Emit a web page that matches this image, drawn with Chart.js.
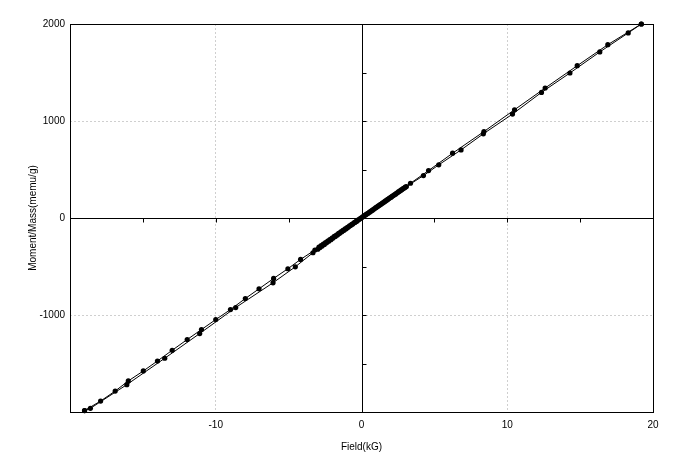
<!DOCTYPE html>
<html>
<head>
<meta charset="utf-8">
<script src="https://cdn.jsdelivr.net/npm/chart.js@4.4.0/dist/chart.umd.min.js"></script>
<style>
	html, body { margin: 0; padding: 0; background: #fff; }
</style>
</head>
<body>
<canvas id="loop" width="687" height="462"></canvas>
<script>
// descending branch (+20 kG -> -20 kG)
const downField = [19.2, 16.9, 14.8, 12.6, 10.5, 8.4, 6.25, 4.6, 3.36,
	3.0, 2.85, 2.7, 2.55, 2.4, 2.25, 2.1, 1.95, 1.8, 1.65, 1.5, 1.35, 1.2, 1.05, 0.9, 0.75, 0.6, 0.45, 0.3, 0.15, 0.0,
	-0.15, -0.3, -0.45, -0.6, -0.75, -0.9, -1.05, -1.2, -1.35, -1.5, -1.65, -1.8, -1.95, -2.1, -2.25, -2.4, -2.55, -2.7, -2.85, -3.0,
	-3.33, -4.54, -6.07, -8.63, -11.1, -13.5, -16.1, -18.6, -19.0];
const downMoment = [2000, 1787, 1570, 1340, 1116, 891, 668, 489, 358,
	318, 303, 287, 271, 255, 239, 224, 208, 192, 176, 160, 144, 129, 113, 97, 81, 65, 49, 34, 18, 2,
	-14, -30, -46, -62, -78, -94, -110, -126, -142, -158, -174, -190, -207, -223, -239, -256, -272, -289, -305, -322,
	-358, -503, -668, -923, -1191, -1446, -1718, -1962, -1985];

// ascending branch (-20 kG -> +20 kG)
const upField = [-19.0, -17.9, -16.9, -16.0, -14.97, -14.0, -12.99, -11.96, -10.98, -10.0, -8.99, -7.97, -7.03, -6.03, -5.05, -4.18, -3.2,
	-2.92, -2.77, -2.62, -2.47, -2.32, -2.17, -2.02, -1.87, -1.72, -1.57, -1.42, -1.27, -1.12, -0.97, -0.82, -0.67, -0.52, -0.37, -0.22, -0.07,
	0.08, 0.23, 0.38, 0.53, 0.68, 0.83, 0.98, 1.13, 1.28, 1.43, 1.58, 1.73, 1.88, 2.03, 2.18, 2.33, 2.48, 2.63, 2.78, 2.93, 3.08,
	4.25, 5.3, 6.83, 8.36, 10.36, 12.35, 14.3, 16.35, 18.3, 19.2];
const upMoment = [-1985, -1887, -1784, -1680, -1577, -1474, -1364, -1253, -1150, -1047, -944, -830, -730, -623, -523, -427, -330,
	-300, -284, -268, -253, -237, -222, -206, -190, -175, -159, -144, -128, -113, -97, -81, -66, -50, -35, -19, -3,
	12, 28, 44, 59, 75, 90, 106, 122, 137, 153, 168, 184, 200, 215, 231, 246, 262, 278, 293, 309, 324,
	437, 548, 702, 868, 1071, 1295, 1495, 1712, 1908, 2000];

const xTicks = [-10, 0, 10, 20];
const yTicks = [-1000, 0, 1000, 2000];
const xMinor = [-15, -10, -5, 5, 10, 15];
const yMinor = [-1500, -1000, -500, 500, 1000, 1500];

function toPoints(xs, ys) {
	return xs.map((v, i) => ({ x: v, y: ys[i] }));
}

// solid axes through the origin with small ticks, plus the black frame
const zeroAxes = {
	id: 'zeroAxes',
	beforeDatasetsDraw(chart) {
		const { ctx, chartArea: a, scales: { x, y } } = chart;
		const x0 = Math.round(x.getPixelForValue(0)) + 0.5;
		const y0 = Math.round(y.getPixelForValue(0)) + 0.5;
		ctx.save();
		ctx.strokeStyle = '#000';
		ctx.lineWidth = 1;
		ctx.beginPath();
		ctx.moveTo(a.left, y0);
		ctx.lineTo(a.right, y0);
		ctx.moveTo(x0, a.top);
		ctx.lineTo(x0, a.bottom);
		xMinor.forEach(v => {
			const px = Math.round(x.getPixelForValue(v)) + 0.5;
			ctx.moveTo(px, y0);
			ctx.lineTo(px, y0 + 4);
		});
		yMinor.forEach(v => {
			const py = Math.round(y.getPixelForValue(v)) + 0.5;
			ctx.moveTo(x0, py);
			ctx.lineTo(x0 + 4, py);
		});
		ctx.stroke();
		ctx.strokeRect(Math.round(a.left) + 0.5, Math.round(a.top) + 0.5,
			Math.round(a.right - a.left), Math.round(a.bottom - a.top));
		ctx.restore();
	}
};

const font = { family: '"Liberation Sans", Arial, sans-serif', size: 10 };

function gridColor(c) {
	const v = c.tick ? c.tick.value : null;
	if (v === 0 || v === 20 || v === 2000) return 'rgba(0,0,0,0)';
	return '#cfcfcf';
}

const line = {
	showLine: true,
	borderColor: '#000',
	borderWidth: 1,
	backgroundColor: '#000',
	pointRadius: 2.6,
	pointBorderWidth: 0,
	pointHoverRadius: 2.6,
	clip: false
};

new Chart(document.getElementById('loop').getContext('2d'), {
	type: 'scatter',
	data: {
		datasets: [
			{ ...line, label: 'down', data: toPoints(downField, downMoment) },
			{ ...line, label: 'up', data: toPoints(upField, upMoment) }
		]
	},
	options: {
		responsive: false,
		animation: false,
		events: [],
		layout: { padding: { left: 0, top: 24, right: 34, bottom: 0 } },
		plugins: { legend: { display: false }, tooltip: { enabled: false } },
		scales: {
			x: {
				type: 'linear',
				min: -20,
				max: 20,
				afterBuildTicks: s => { s.ticks = xTicks.map(v => ({ value: v })); },
				afterFit: s => { s.height = 50; },
				grid: { color: gridColor, drawTicks: false },
				border: { display: false, dash: [2, 2] },
				ticks: { color: '#000', font: font, padding: 7, maxRotation: 0, callback: v => String(v) },
				title: { display: true, text: 'Field(kG)', color: '#000', font: font, padding: { top: 0, bottom: 9 } }
			},
			y: {
				type: 'linear',
				min: -2000,
				max: 2000,
				afterBuildTicks: s => { s.ticks = yTicks.map(v => ({ value: v })); },
				afterFit: s => { s.width = 70; },
				grid: { color: gridColor, drawTicks: false },
				border: { display: false, dash: [2, 2] },
				ticks: { color: '#000', font: font, padding: 5, callback: v => String(v) },
				title: { display: true, text: 'Moment/Mass(memu/g)', color: '#000', font: font, padding: { top: 27, bottom: 0 } }
			}
		}
	},
	plugins: [zeroAxes]
});
</script>
</body>
</html>
